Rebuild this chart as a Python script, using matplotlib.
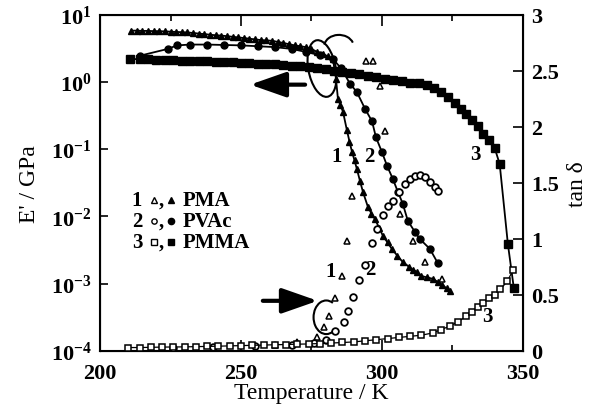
import math
import matplotlib
matplotlib.use("Agg")
import matplotlib.pyplot as plt
import matplotlib.ticker as ticker
from matplotlib.patches import Ellipse, Arc

plt.rcParams["font.family"] = "Liberation Serif"
plt.rcParams["font.weight"] = "bold"
plt.rcParams["font.size"] = 15
plt.rcParams["mathtext.fontset"] = "custom"
plt.rcParams["mathtext.rm"] = "Liberation Serif:bold"
plt.rcParams["mathtext.bf"] = "Liberation Serif:bold"

# storage modulus E' (GPa), filled symbols
pma_T = [211, 213, 215, 217, 219, 221, 223, 225, 227, 229, 231, 233, 235, 237, 239, 241,
         243, 245, 247, 249, 251, 253, 255, 257, 259, 261, 263, 265, 267, 269, 271, 273,
         275, 277, 279, 281, 282.6, 283.7, 284.4, 285.3, 286.2, 287.6, 288.5, 289.4, 290.3,
         291.1, 292.2, 293.3, 295, 296.3, 297.5, 299, 300.4, 302, 303.5, 305.5, 307.4,
         309.5, 311, 312.4, 314, 316, 318.1, 320, 321.5, 323, 324.1]
pma_E = [5.8, 5.8, 5.75, 5.75, 5.7, 5.7, 5.65, 5.6, 5.55, 5.5, 5.45, 5.35, 5.25, 5.15, 5.05,
         4.95, 4.9, 4.8, 4.7, 4.6, 4.5, 4.4, 4.3, 4.2, 4.15, 4.1, 3.95, 3.8, 3.65, 3.5, 3.4,
         3.3, 3.1, 2.8, 2.6, 2.4, 2.2, 1.12, 0.56, 0.45, 0.36, 0.19, 0.13, 0.091, 0.068,
         0.051, 0.034, 0.023, 0.014, 0.011, 0.0092, 0.0068, 0.0051, 0.0041, 0.0033, 0.0026,
         0.0021, 0.0018, 0.0016, 0.0015, 0.0013, 0.00124, 0.00118, 0.00105, 0.00095,
         0.00085, 0.00078]

pvac_T = [214, 224, 227.3, 232, 238, 244, 250, 256, 262, 268, 273, 278, 282.6, 285.5, 288.7,
          291.1, 294, 296.5, 297.9, 300, 301.8, 303.9, 305.7, 307.4, 309.2, 311.7, 313.5,
          317, 319.9]
pvac_E = [2.45, 3.1, 3.5, 3.6, 3.6, 3.55, 3.5, 3.4, 3.3, 3.1, 2.8, 2.5, 2.2, 1.6, 0.94,
          0.71, 0.40, 0.26, 0.15, 0.091, 0.057, 0.036, 0.023, 0.0155, 0.0086, 0.0059,
          0.0046, 0.0033, 0.0020]

pmma_T = [210.6, 214, 217, 220, 223, 226, 229, 232, 235, 238, 241, 244, 247, 250, 253, 256,
          259, 262, 265, 268, 271, 274, 277, 280, 283, 286, 289, 292, 295, 298, 301, 304,
          307, 310, 313, 316, 318.5, 321, 323.5, 326, 328, 330, 332, 334, 336, 338, 340,
          341.8, 344.7, 346.8]
pmma_E = [2.2, 2.18, 2.16, 2.14, 2.12, 2.1, 2.08, 2.06, 2.04, 2.02, 2.0, 1.98, 1.95, 1.93,
          1.9, 1.88, 1.86, 1.83, 1.8, 1.75, 1.7, 1.65, 1.6, 1.55, 1.48, 1.42, 1.35, 1.3,
          1.24, 1.18, 1.12, 1.07, 1.02, 0.98, 0.95, 0.9, 0.82, 0.72, 0.6, 0.48, 0.4, 0.33,
          0.27, 0.22, 0.17, 0.135, 0.105, 0.06, 0.0039, 0.00087]

# tan delta, open symbols
pma_tanT = [262, 270, 277, 279.4, 281.2, 283.3, 285.8, 287.6, 289.4, 294.3, 296.8, 299.3,
            301.1, 306.4, 311, 315.2, 321.3]
pma_tan = [0.05, 0.08, 0.125, 0.21, 0.31, 0.47, 0.67, 0.98, 1.38, 2.59, 2.59, 2.36, 1.96,
           1.22, 0.98, 0.79, 0.64]

pvac_tanT = [226, 240, 255, 268, 276, 280, 283.3, 286.5, 287.9, 289.7, 291.8, 294, 296.5,
             298.2, 300.4, 302.1, 303.9, 306, 308.2, 309.9, 311.7, 313.5, 315.2, 317,
             318.8, 319.9]
pvac_tan = [0.03, 0.035, 0.04, 0.05, 0.07, 0.1, 0.18, 0.26, 0.36, 0.48, 0.63, 0.77, 0.96,
            1.09, 1.21, 1.29, 1.34, 1.42, 1.49, 1.53, 1.56, 1.57, 1.55, 1.51, 1.46, 1.43]

pmma_tanT = [210, 214, 218, 222, 226, 230, 234, 238, 242, 246, 250, 254, 258, 262, 266, 270,
             274, 278, 282, 286, 290, 294, 298, 302, 306, 310, 314, 318, 321, 324, 327, 330,
             332, 334, 336, 338, 340, 342, 344.5, 346.5]
pmma_tan = [0.03, 0.03, 0.032, 0.034, 0.035, 0.036, 0.038, 0.04, 0.042, 0.045, 0.047, 0.05,
            0.052, 0.055, 0.057, 0.06, 0.062, 0.066, 0.07, 0.075, 0.08, 0.09, 0.1, 0.11,
            0.12, 0.13, 0.14, 0.16, 0.19, 0.22, 0.26, 0.31, 0.35, 0.39, 0.43, 0.47, 0.5,
            0.55, 0.62, 0.72]

fig = plt.figure(figsize=(6.03, 4.14), dpi=100)
ax = fig.add_axes([0.166, 0.150, 0.701, 0.812])
ax2 = ax.twinx()

# E' curves
ax.plot(pma_T, pma_E, 'k-^', lw=1.3, ms=3.8)
ax.plot(pvac_T, pvac_E, 'k-o', lw=1.3, ms=5)
ax.plot(pmma_T, pmma_E, 'k-s', lw=1.3, ms=5.5)

# tan delta curves
ax2.plot(pma_tanT, pma_tan, '^', ls='none', ms=4.5, mfc='white', mec='k', mew=1.1)
ax2.plot(pvac_tanT, pvac_tan, 'o', ls='none', ms=4.8, mfc='white', mec='k', mew=1.3)
ax2.plot(pmma_tanT, pmma_tan, 'k-s', lw=0.9, ms=4.8, mfc='white', mec='k', mew=1.1)

ax.set_yscale('log')
ax.set_xlim(200, 350)
ax.set_ylim(1e-4, 1e1)
ax2.set_ylim(0, 3)

ax.xaxis.set_major_locator(ticker.MultipleLocator(50))
ax.xaxis.set_minor_locator(ticker.MultipleLocator(25))
ax.yaxis.set_major_locator(ticker.LogLocator(base=10, numticks=10))
ax.yaxis.set_minor_locator(ticker.NullLocator())
ax.yaxis.set_major_formatter(ticker.FuncFormatter(lambda v, p: r'$\mathrm{10^{%d}}$' % round(math.log10(v))))
ax2.yaxis.set_major_locator(ticker.MultipleLocator(0.5))
ax2.yaxis.set_major_formatter(ticker.FuncFormatter(lambda v, p: ('%g' % v)))

ax.tick_params(axis='x', which='major', direction='in', length=8, width=1.2, top=True, labelsize=16, pad=9)
ax.tick_params(axis='x', which='minor', direction='in', length=4, width=1.2, top=True)
ax.tick_params(axis='y', which='major', direction='in', length=6, width=1.2, labelsize=16, pad=6)
ax2.tick_params(axis='y', which='major', direction='in', length=7, width=1.2, labelsize=16, pad=6)
for sp in ax.spines.values():
    sp.set_linewidth(1.5)

ax.set_xlabel('Temperature / K', fontsize=17, labelpad=-1)
ax.set_ylabel("E' / GPa", fontsize=17, labelpad=8)
ax2.set_ylabel('tan δ', fontsize=17, labelpad=6)

# legend drawn by hand
rows = [(0.449, '^', 'PMA', 3.8), (0.387, 'o', 'PVAc', 3.8), (0.324, 's', 'PMMA', 3.8)]
for i, (yy, mk, name, ms) in enumerate(rows):
    ax.text(0.075, yy, str(i + 1), transform=ax.transAxes, fontsize=15, va='center')
    ax.plot([0.128], [yy], mk, ms=ms, mfc='white', mec='k', mew=1, transform=ax.transAxes, clip_on=False)
    ax.text(0.139, yy, ',', transform=ax.transAxes, fontsize=15, va='center')
    ax.plot([0.168], [yy], mk, ms=ms + 0.7, color='k', transform=ax.transAxes, clip_on=False)
    ax.text(0.196, yy, name, transform=ax.transAxes, fontsize=15, va='center')

# curve numbers
for (xx, yy, s) in [(0.560, 0.58, '1'), (0.636, 0.58, '2'), (0.887, 0.586, '3'),
                    (0.546, 0.238, '1'), (0.640, 0.244, '2'), (0.916, 0.104, '3')]:
    ax.text(xx, yy, s, transform=ax.transAxes, fontsize=15, va='center', ha='center')

# arrows and loops
ax.annotate('', xy=(0.355, 0.792), xytext=(0.485, 0.792), xycoords='axes fraction',
            arrowprops=dict(arrowstyle='-|>,head_length=1.0,head_width=0.35', lw=3, color='k',
                            mutation_scale=22, shrinkA=0, shrinkB=0))
ax.annotate('', xy=(0.515, 0.149), xytext=(0.385, 0.149), xycoords='axes fraction',
            arrowprops=dict(arrowstyle='-|>,head_length=1.0,head_width=0.35', lw=3, color='k',
                            mutation_scale=22, shrinkA=0, shrinkB=0))
ax.add_patch(Ellipse((0.525, 0.84), 0.065, 0.17, angle=8, transform=ax.transAxes,
                     fill=False, lw=1.5, ec='k'))
ax.add_patch(Arc((0.565, 0.905), 0.07, 0.07, theta1=20, theta2=170, transform=ax.transAxes,
                 lw=1.5, color='k'))
ax.add_patch(Arc((0.535, 0.10), 0.06, 0.10, theta1=70, theta2=290, transform=ax.transAxes,
                 lw=1.5, color='k'))

fig.savefig('out.png', dpi=100)
